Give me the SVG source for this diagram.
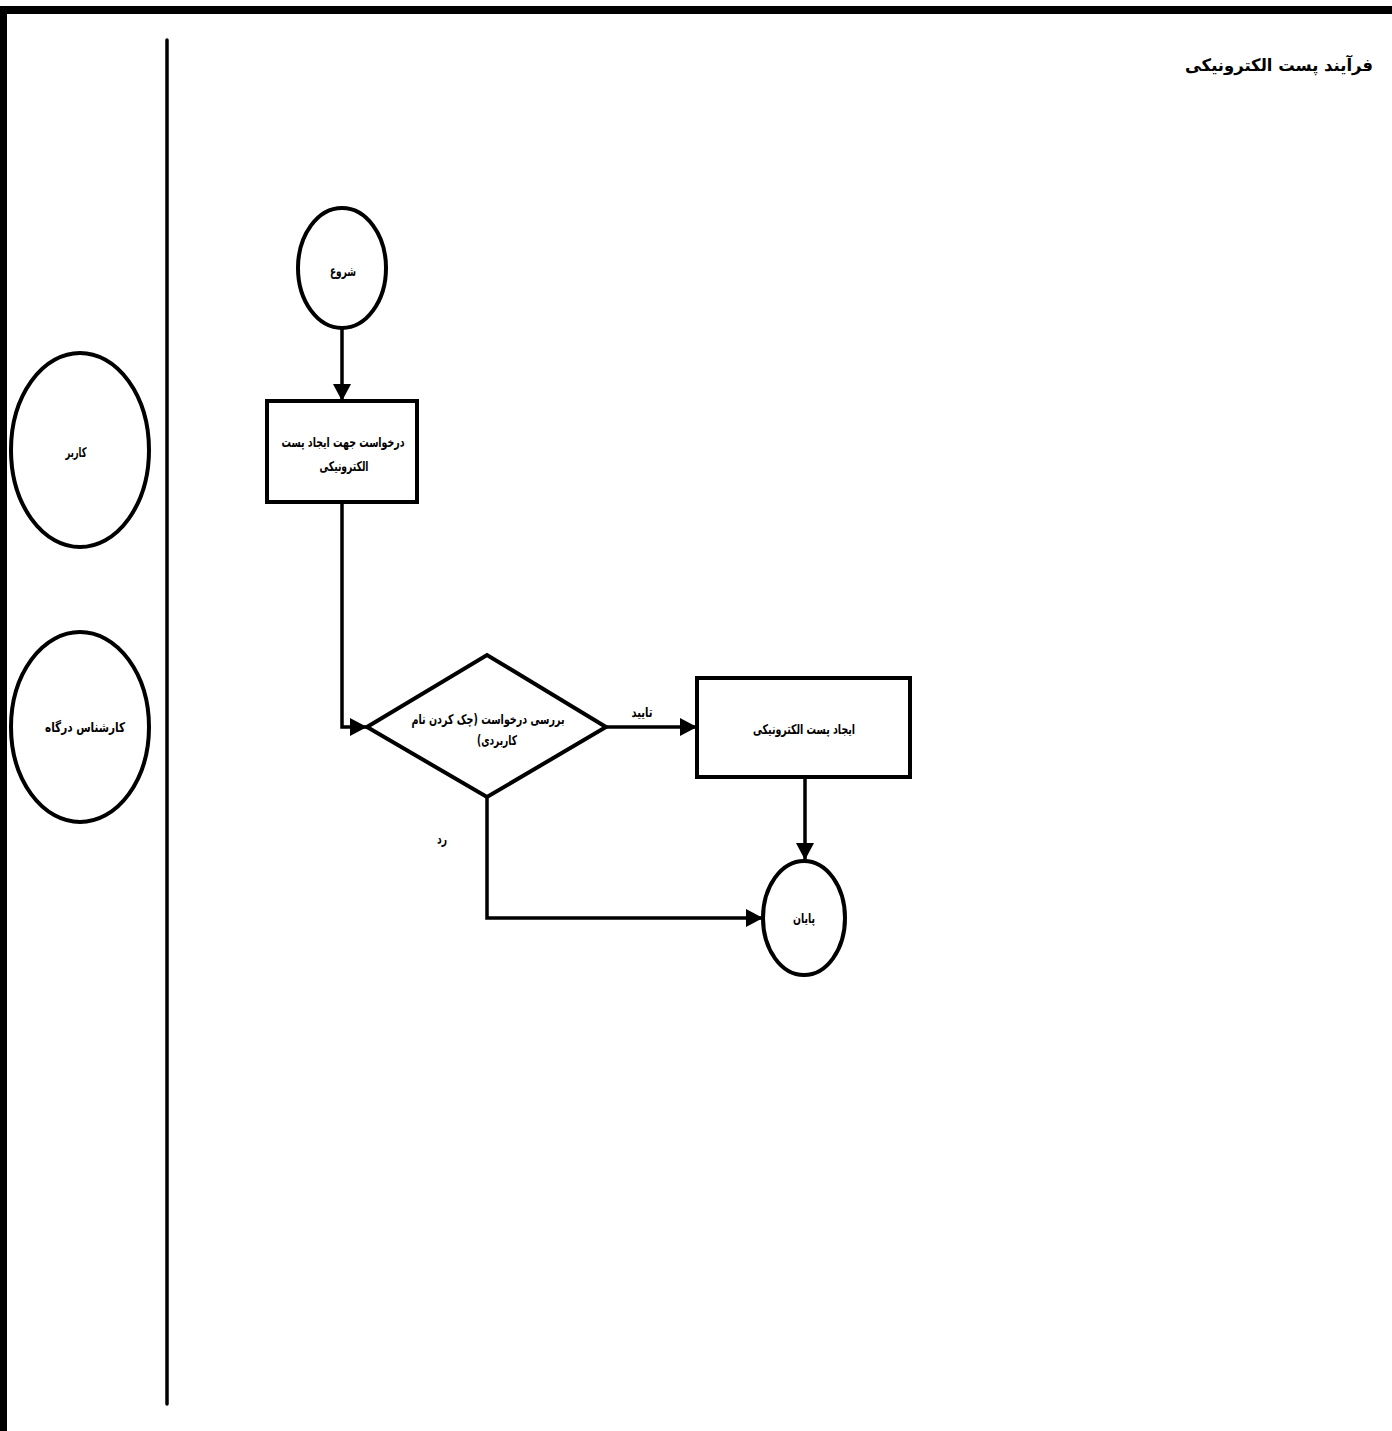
<svg xmlns="http://www.w3.org/2000/svg" width="1392" height="1431" viewBox="0 0 1392 1431">
<style>
.shape{fill:#ffffff;stroke:#000000;stroke-width:4}
.conn{fill:none;stroke:#000000;stroke-width:3.5;stroke-linejoin:miter}
.t{font-family:"DejaVu Sans","Noto Sans",sans-serif;font-weight:bold;font-size:13.5px;fill:#000000;text-anchor:middle;direction:rtl}
.title{font-family:"DejaVu Sans","Noto Sans",sans-serif;font-weight:bold;font-size:17px;fill:#000000;text-anchor:middle;direction:rtl}
</style>
<defs>
<marker id="arrow" markerUnits="userSpaceOnUse" markerWidth="18" markerHeight="18" viewBox="0 0 18 18" refX="17" refY="9" orient="auto">
<path d="M0,0 L17,9 L0,18 z" fill="#000000"/>
</marker>
</defs>
<rect width="1392" height="1431" fill="#ffffff"/>
<g id="frame">
<rect x="0" y="6" width="1392" height="8" fill="#000000"/>
<rect x="0" y="6" width="7" height="1425" fill="#000000"/>
<line x1="167" y1="40" x2="167" y2="1404" stroke="#000000" stroke-width="3.5" stroke-linecap="round"/>
</g>
<g id="title">
<text class="title" x="1279" y="71" textLength="188" lengthAdjust="spacingAndGlyphs">فرآیند پست الکترونیکی</text>
</g>
<g id="lane-user">
<ellipse class="shape" cx="80" cy="450" rx="69" ry="97"/>
<text class="t" x="76" y="457" textLength="21" lengthAdjust="spacingAndGlyphs">کاربر</text>
</g>
<g id="lane-expert">
<ellipse class="shape" cx="80" cy="727" rx="69" ry="95"/>
<text class="t" x="85" y="732" textLength="80" lengthAdjust="spacingAndGlyphs">کارشناس درگاه</text>
</g>
<g id="connectors">
<path class="conn" d="M342,328 L342,401" marker-end="url(#arrow)"/>
<path class="conn" d="M342,502 L342,727 L367,727" marker-end="url(#arrow)"/>
<path class="conn" d="M606,727 L697,727" marker-end="url(#arrow)"/>
<path class="conn" d="M805,777 L805,860" marker-end="url(#arrow)"/>
<path class="conn" d="M487,797 L487,918 L763,918" marker-end="url(#arrow)"/>
<text class="t" x="642" y="717" textLength="21" lengthAdjust="spacingAndGlyphs">تایید</text>
<text class="t" x="442" y="844" textLength="10" lengthAdjust="spacingAndGlyphs">رد</text>
</g>
<g id="start">
<ellipse class="shape" cx="342" cy="268" rx="44" ry="60"/>
<text class="t" x="343" y="276" textLength="26" lengthAdjust="spacingAndGlyphs">شروع</text>
</g>
<g id="request">
<rect class="shape" x="267" y="401" width="150" height="101"/>
<text class="t" x="343" y="447" textLength="123" lengthAdjust="spacingAndGlyphs">درخواست جهت ایجاد پست</text>
<text class="t" x="344" y="471" textLength="49" lengthAdjust="spacingAndGlyphs">الکترونیکی</text>
</g>
<g id="check">
<polygon class="shape" points="367,727 487,655 606,727 487,797"/>
<text class="t" x="488" y="724" textLength="153" lengthAdjust="spacingAndGlyphs">بررسی درخواست (چک کردن نام</text>
<text class="t" x="497" y="745" textLength="40" lengthAdjust="spacingAndGlyphs">کاربردی)</text>
</g>
<g id="create">
<rect class="shape" x="697" y="678" width="213" height="99"/>
<text class="t" x="804" y="734" textLength="102" lengthAdjust="spacingAndGlyphs">ایجاد پست الکترونیکی</text>
</g>
<g id="end">
<ellipse class="shape" cx="804" cy="918" rx="41" ry="57"/>
<text class="t" x="804" y="923" textLength="22" lengthAdjust="spacingAndGlyphs">پایان</text>
</g>
</svg>
